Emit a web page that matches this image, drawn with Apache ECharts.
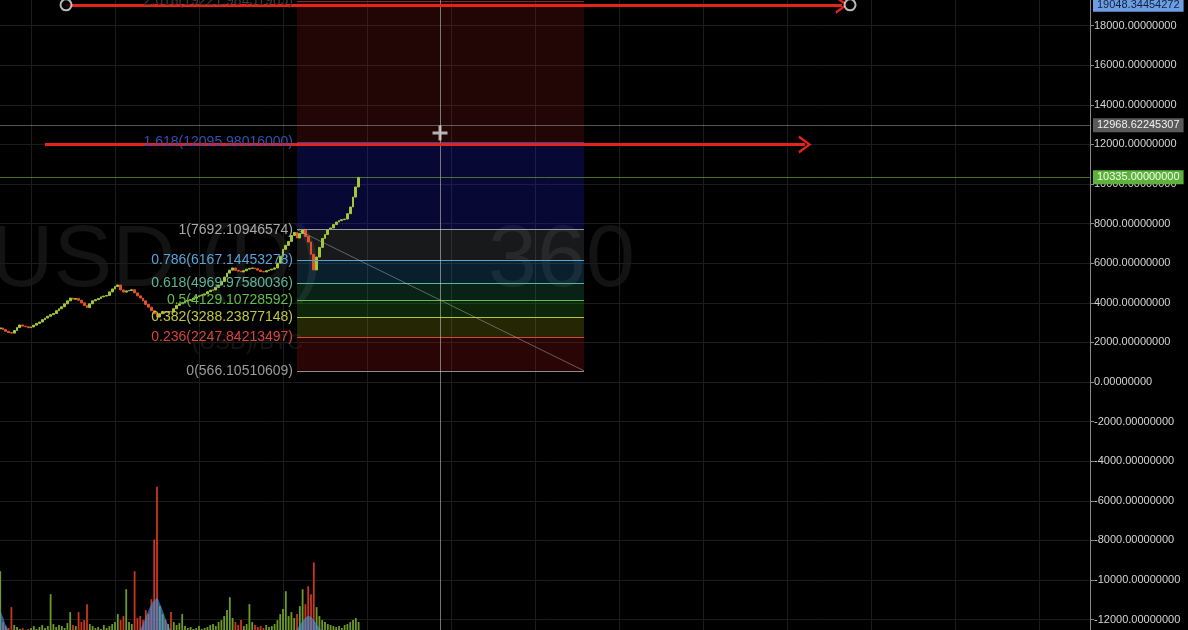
<!DOCTYPE html>
<html><head><meta charset="utf-8">
<script src="https://cdn.jsdelivr.net/npm/echarts@6/dist/echarts.min.js"></script>
<style>html,body{margin:0;padding:0;background:#000}#c{width:1188px;height:630px}</style>
</head><body><div id="c"></div>
<script>
// ---- data ----
const startDay = -11; // first daily bar (days counted from 1 Aug)
const closes = [
  2730,2650,2560,2500,2470,2600,2750,2880,2820,2790,
  2740,2780,2870,2960,3030,3150,3230,3320,3400,3460,
  3600,3700,3800,3950,4100,4240,4180,4220,4130,4000,
  3860,3760,3950,4100,4160,4220,4300,4340,4370,4550,
  4700,4820,4900,4650,4540,4600,4620,4660,4500,4350,
  4240,4100,3920,3780,3600,3450,3280,3450,3560,3520,
  3560,3530,3700,3870,3950,4000,4080,4120,4160,4230,
  4300,4360,4390,4450,4560,4640,4650,4780,4900,5080,
  5300,5500,5650,5760,5640,5600,5560,5620,5700,5740,
  5760,5720,5650,5580,5560,5620,5660,5700,5760,6000,
  6350,6700,6900,7100,7400,7550,7270,7500,7680,7350,
  7070,6450,5660,6310,6800,7250,7450,7700,7780,7950,
  8080,8150,8200,8230,8500,8840,9340,9850,10335
];
const volumes = [
  63,12,8,6,27,9,7,5,6,4,
  5,6,8,5,7,9,6,8,40,10,
  7,9,8,6,11,22,9,8,22,12,
  14,30,10,8,6,7,5,9,6,8,
  10,12,20,14,18,45,12,10,63,16,
  18,14,24,20,35,95,148,28,20,14,
  10,22,12,9,11,20,8,6,7,5,
  6,8,5,6,7,9,10,8,12,14,
  18,24,37,16,12,9,14,8,10,30,
  12,9,7,8,6,9,7,8,10,14,
  20,25,43,18,22,16,20,28,45,30,
  48,40,72,27,18,14,12,10,9,8,
  7,8,6,9,10,12,14,16,12
];
const volumeMA = [
  24,17,9,4,1,0,0,0,0,0,
  0,0,0,0,0,0,0,0,0,0,
  0,0,0,0,0,0,0,0,0,0,
  0,0,0,0,0,0,0,0,0,0,
  0,0,0,0,0,0,0,0,1,2,
  5,10,17,24,30,34,36,31,24,16,
  9,4,2,0,0,0,0,0,0,0,
  0,0,0,0,0,0,0,0,0,0,
  0,0,0,0,0,0,0,0,0,0,
  0,0,0,0,0,0,0,0,0,0,
  0,0,0,0,0,2,5,9,13,16,
  18,17,14,10,6,3,1,0,0,0,
  0,0,0,0,0,0,0,0,0
];
const fibRatios = [0, 0.236, 0.382, 0.5, 0.618, 0.786, 1, 1.618, 2.618];
const fibPrices = [566.10510609, 2247.84213497, 3288.23877148, 4129.10728592, 4969.97580036,
                   6167.14453278, 7692.10946574, 12095.98016000, 19221.98451965];
const fibDays = [95, 197.5];
const lastPrice = 10335;
const lastPriceText = '10335.00000000';
const crosshairPrice = 12968.62245307;
const crosshairText = '12968.62245307';
const crosshairDay = 146.07;
const cursorPoint = [146.07, 12576];
const topArrow = {days: [12.5, 289.6], price: 19048.34454272, text: '19048.34454272'};
const topAnchors = [[12.5, 19048.34454272], [292.5, 19048.34454272]];
const midArrow = {days: [5, 276.4], price: 12000};
const priceAxis = {min: -14000, max: 20000, step: 2000};
const dayAxis = {min: -30, max: 378.2, step: 30};

// ---- styles ----
const fibLineColors = ['#8e8e8e','#d8443a','#b8c43e','#5fbf4a','#5cb59a','#5aa2d8','#9a9a9a','#34449a','#7a2a2a'];
const fibLabelColors = ['#9a9a9a','#d8443a','#c0c840','#5fbf4a','#5cb59a','#5aa2d8','#a8a8a8','#3550b0','#3a3a3a'];
const fibZoneColors = ['rgba(170,20,20,0.24)','rgba(170,175,20,0.22)','rgba(60,170,40,0.22)','rgba(40,170,120,0.2)',
                       'rgba(40,140,200,0.22)','rgba(130,140,150,0.18)','rgba(30,30,200,0.26)','rgba(170,30,30,0.2)'];
const upColor = '#a4c639', downColor = '#e4502a';
const chevron = 'path://M0,12 L9,0 L18,12 L15.5,12.8 L9,3.6 L2.5,12.8 Z';

// ---- build ----
const ohlc = closes.map((c, i) => {
  const o = i > 0 ? closes[i - 1] : c - 40;
  return [startDay + i, o, c, Math.min(o, c), Math.max(o, c)];
});
const volData = volumes.map((v, i) => ({
  value: [startDay + i, v],
  itemStyle: {color: ohlc[i][2] >= ohlc[i][1] ? '#6f9a2a' : '#c8371f'}
}));
const maData = volumeMA.map((v, i) => [startDay + i, v]);

const zones = [];
for (let k = 0; k < fibPrices.length - 1; k++) {
  zones.push([{coord: [fibDays[0], fibPrices[k]], itemStyle: {color: fibZoneColors[k]}},
              {coord: [fibDays[1], fibPrices[k + 1]]}]);
}
const fibLines = fibPrices.map((p, k) => [
  {coord: [fibDays[0], p], lineStyle: {color: fibLineColors[k], width: 1.2, type: 'solid'},
   label: {show: true, position: 'start', distance: 4, color: fibLabelColors[k],
           fontSize: 14, fontFamily: 'Liberation Sans',
           formatter: fibRatios[k] + '(' + p.toFixed(8) + ')'}},
  {coord: [fibDays[1], p]}
]);
const diag = [{coord: [fibDays[0], fibPrices[6]], lineStyle: {color: 'rgba(190,190,190,0.45)', width: 1, type: 'solid'}, label: {show: false}},
              {coord: [fibDays[1], fibPrices[0]]}];
const axisTag = (bg, fg, text) => ({show: true, position: 'end', distance: 3, backgroundColor: bg, color: fg,
  fontSize: 11, fontFamily: 'Liberation Sans', padding: [2, 4, 1, 4], formatter: text});

const chart = echarts.init(document.getElementById('c'), null, {renderer: 'canvas'});
chart.setOption({
  backgroundColor: '#000',
  animation: false,
  graphic: [
    {type: 'text', left: -10, top: 218, z: -10, silent: true,
     style: {text: 'USD (D)', fill: '#131313', font: '88px "Liberation Sans"'}},
    {type: 'text', left: 488, top: 218, z: -10, silent: true,
     style: {text: '360', fill: '#131313', font: '88px "Liberation Sans"'}},
    {type: 'text', left: 192, top: 332, z: -10, silent: true,
     style: {text: '(USD)/BTC', fill: '#141414', font: '22px "Liberation Sans"'}}
  ],
  grid: [
    {left: -53, right: 98, top: -14, bottom: -29.2, outerBoundsMode: 'none', containLabel: false},
    {left: -53, right: 98, top: 430, bottom: -4, outerBoundsMode: 'none', containLabel: false}
  ],
  xAxis: [
    {type: 'value', gridIndex: 0, min: dayAxis.min, max: dayAxis.max, interval: dayAxis.step,
     axisLine: {show: false, onZero: false}, axisTick: {show: false}, axisLabel: {show: false},
     splitLine: {show: true, lineStyle: {color: '#1c1c1c', width: 1}}},
    {type: 'value', gridIndex: 1, min: dayAxis.min, max: dayAxis.max, interval: dayAxis.step,
     axisLine: {show: false, onZero: false}, axisTick: {show: false}, axisLabel: {show: false}, splitLine: {show: false}}
  ],
  yAxis: [
    {type: 'value', gridIndex: 0, position: 'right', min: priceAxis.min, max: priceAxis.max, interval: priceAxis.step,
     axisLine: {show: true, onZero: false, lineStyle: {color: '#8a8a8a', width: 1}},
     axisTick: {show: true, length: 4, lineStyle: {color: '#8a8a8a'}},
     axisLabel: {color: '#d4d4d4', fontSize: 11, fontFamily: 'Liberation Sans', margin: 4,
                 formatter: v => v.toFixed(8)},
     splitLine: {show: true, lineStyle: {color: '#1c1c1c', width: 1}}},
    {type: 'value', gridIndex: 1, min: 0, max: 205, show: false, axisLine: {onZero: false}, splitLine: {show: false}}
  ],
  series: [
    {type: 'candlestick', name: 'price', xAxisIndex: 0, yAxisIndex: 0, barWidth: 2.2,
     data: ohlc, encode: {x: 0, y: [1, 2, 3, 4]}, z: 4,
     itemStyle: {color: upColor, color0: downColor, borderColor: upColor, borderColor0: downColor, borderWidth: 1},
     markArea: {silent: true, data: zones, label: {show: false}},
     markLine: {silent: true, symbol: ['none', 'none'], animation: false,
       data: [
         ...fibLines, diag,
         {xAxis: crosshairDay, lineStyle: {color: 'rgba(210,210,210,0.55)', width: 1, type: 'solid'}, label: {show: false}},
         {yAxis: crosshairPrice, lineStyle: {color: 'rgba(170,170,170,0.5)', width: 1, type: 'solid'}, label: axisTag('#5a5a5a', '#f0f0f0', crosshairText)},
         {yAxis: lastPrice, lineStyle: {color: 'rgba(110,170,60,0.65)', width: 1, type: 'solid'}, label: axisTag('#5cb23a', '#f4fff0', lastPriceText)}
       ]}},
    {type: 'scatter', name: 'anchors', xAxisIndex: 0, yAxisIndex: 0, z: 8,
     data: topAnchors, symbol: 'circle', symbolSize: 11,
     itemStyle: {color: '#000', borderColor: '#e6e6e6', borderWidth: 2},
     markLine: {silent: true, animation: false, symbol: ['none', 'none'],
       data: [
         [{coord: [topArrow.days[0], topArrow.price], symbol: 'none', lineStyle: {color: '#e5231b', width: 3, type: 'solid'}, label: {show: false}},
          {coord: [topArrow.days[1], topArrow.price], symbol: chevron, symbolSize: [18, 13]}],
         [{coord: [midArrow.days[0], midArrow.price], symbol: 'none', lineStyle: {color: '#e5231b', width: 3, type: 'solid'}, label: {show: false}},
          {coord: [midArrow.days[1], midArrow.price], symbol: chevron, symbolSize: [18, 13]}],
         {yAxis: topArrow.price, lineStyle: {color: 'rgba(0,0,0,0)', width: 0}, label: axisTag('#6d9ee3', '#10203a', topArrow.text)}
       ]}},
    {type: 'scatter', name: 'cursor', xAxisIndex: 0, yAxisIndex: 0, z: 9,
     data: [cursorPoint], symbol: 'path://M4,0 L6,0 L6,4 L10,4 L10,6 L6,6 L6,10 L4,10 L4,6 L0,6 L0,4 L4,4 Z',
     symbolSize: 15, itemStyle: {color: '#dcdcdc'}},
    {type: 'bar', name: 'volume', xAxisIndex: 1, yAxisIndex: 1, barWidth: 1.8, data: volData, z: 3},
    {type: 'line', name: 'volumeMA', xAxisIndex: 1, yAxisIndex: 1, data: maData, smooth: true, symbol: 'none', z: 4,
     lineStyle: {width: 0}, areaStyle: {color: 'rgba(80,150,225,0.85)'}}
  ]
});
</script></body></html>
